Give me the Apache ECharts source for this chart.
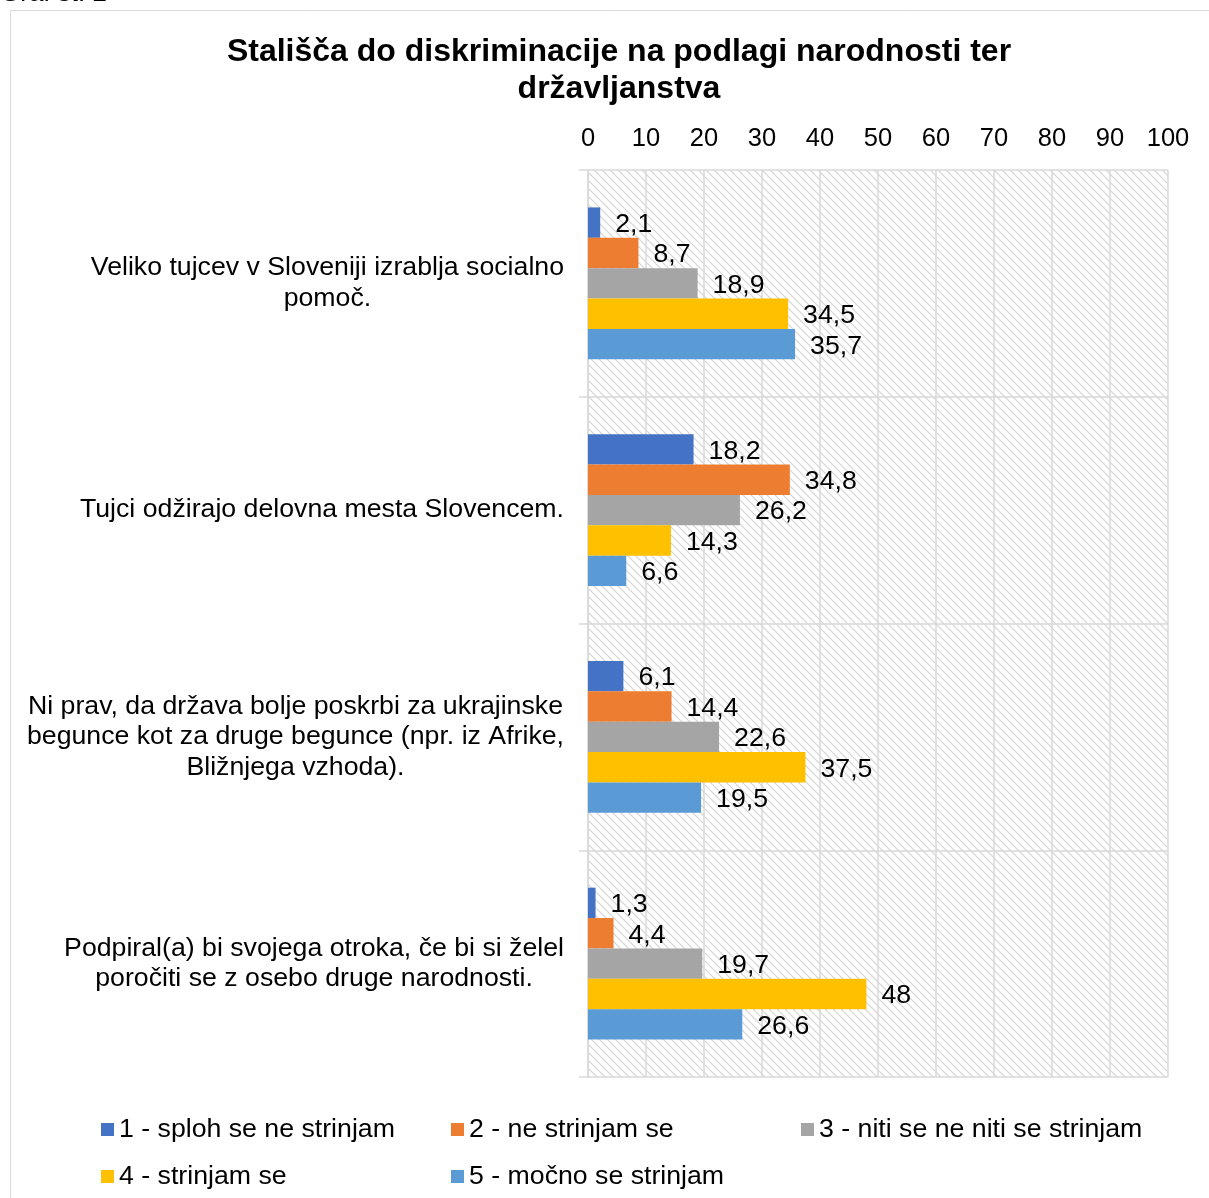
<!DOCTYPE html>
<html><head><meta charset="utf-8">
<script src="https://cdn.jsdelivr.net/npm/echarts@6/dist/echarts.min.js"></script>
<style>html,body{margin:0;padding:0;background:#fff}#c{width:1209px;height:1198px}</style>
</head><body><div id="c"></div>
<script>
const categories = [
  'Veliko tujcev v Sloveniji izrablja socialno\npomoč.',
  'Tujci odžirajo delovna mesta Slovencem.',
  'Ni prav, da država bolje poskrbi za ukrajinske\nbegunce kot za druge begunce (npr. iz Afrike,\nBližnjega vzhoda).',
  'Podpiral(a) bi svojega otroka, če bi si želel\nporočiti se z osebo druge narodnosti.'
];
const seriesNames = ['1 - sploh se ne strinjam', '2 - ne strinjam se', '3 - niti se ne niti se strinjam', '4 - strinjam se', '5 - močno se strinjam'];
const s1 = [2.1, 18.2, 6.1, 1.3];
const s2 = [8.7, 34.8, 14.4, 4.4];
const s3 = [18.9, 26.2, 22.6, 19.7];
const s4 = [34.5, 14.3, 37.5, 48];
const s5 = [35.7, 6.6, 19.5, 26.6];
const xTicks = [0, 10, 20, 30, 40, 50, 60, 70, 80, 90, 100];

const colors = ['#4472C4', '#ED7D31', '#A5A5A5', '#FFC000', '#5B9BD5'];
const FONT = '"Liberation Sans", Arial, sans-serif';
const FS = 26.7;

// hatch pattern
const pc = document.createElement('canvas');
pc.width = 8; pc.height = 8;
const pctx = pc.getContext('2d');
pctx.fillStyle = '#ffffff';
pctx.fillRect(0, 0, 8, 8);
const img = pctx.getImageData(0, 0, 8, 8);
for (let y = 0; y < 8; y++) for (let x = 0; x < 8; x++) {
  const d = ((x - y) % 8 + 8) % 8;
  let v = 255;
  if (d === 0) v = 215; else if (d === 1 || d === 7) v = 240;
  const i = (y * 8 + x) * 4;
  img.data[i] = v; img.data[i + 1] = v; img.data[i + 2] = v; img.data[i + 3] = 255;
}
pctx.putImageData(img, 0, 0);

const chart = echarts.init(document.getElementById('c'), null, {renderer: 'canvas'});
const data = [s1, s2, s3, s4, s5];
const fmt = p => String(p.value).replace('.', ',');

chart.setOption({
  animation: false,
  textStyle: {fontFamily: FONT},
  title: {
    text: 'Stališča do diskriminacije na podlagi narodnosti ter\ndržavljanstva',
    left: 614, top: 29, textAlign: 'center',
    textStyle: {fontSize: 32, fontWeight: 'bold', color: '#000', lineHeight: 37, fontFamily: FONT}
  },
  graphic: [
    {type: 'rect', shape: {x: 10.5, y: 10.5, width: 1220, height: 1220}, style: {fill: 'none', stroke: '#d9d9d9', lineWidth: 1}, silent: true, z: -10},
    {type: 'text', left: 0, top: -19, style: {text: 'Graf št. 2', font: '26px ' + FONT, fill: '#000'}}
  ],
  grid: {left: 588, right: 41, top: 170, bottom: 121, show: true, backgroundColor: {image: pc, repeat: 'repeat'}, borderWidth: 0},
  xAxis: {
    type: 'value', position: 'top', min: 0, max: 100, interval: 10,
    axisLine: {show: false}, axisTick: {show: false},
    splitLine: {show: true, lineStyle: {color: '#d9d9d9', width: 1.5}},
    axisLabel: {fontSize: 25.5, color: '#000', margin: 18, fontFamily: FONT, formatter: v => xTicks.includes(v) ? String(v) : ''}
  },
  yAxis: {
    type: 'category', inverse: true, data: categories,
    axisLine: {show: true, lineStyle: {color: '#d9d9d9', width: 1.5}},
    axisTick: {show: true, length: 9, lineStyle: {color: '#d9d9d9', width: 1.5}},
    splitLine: {show: true, lineStyle: {color: '#d9d9d9', width: 1.5}},
    axisLabel: {
      margin: 24, align: 'right', fontSize: FS, color: '#000', fontFamily: FONT,
      formatter: v => v.split('\n').map(l => '{c|' + l + '}').join('\n'),
      rich: {c: {align: 'center', fontSize: FS, lineHeight: 30.5, color: '#000', fontFamily: FONT}}
    }
  },
  legend: {
    left: 96, top: 1111, width: 1100, itemWidth: 13, itemHeight: 13, icon: 'rect', itemGap: 20,
    textStyle: {fontSize: FS, color: '#000', width: 312, fontFamily: FONT, lineHeight: 26},
    data: seriesNames
  },
  series: data.map((d, i) => ({
    name: seriesNames[i], type: 'bar', data: d,
    itemStyle: {color: colors[i]},
    barGap: '0%', barCategoryGap: '33%',
    label: {show: true, position: 'right', distance: 15, offset: [0, 2], fontSize: FS, color: '#000', fontFamily: FONT, formatter: fmt}
  }))
});
</script></body></html>
